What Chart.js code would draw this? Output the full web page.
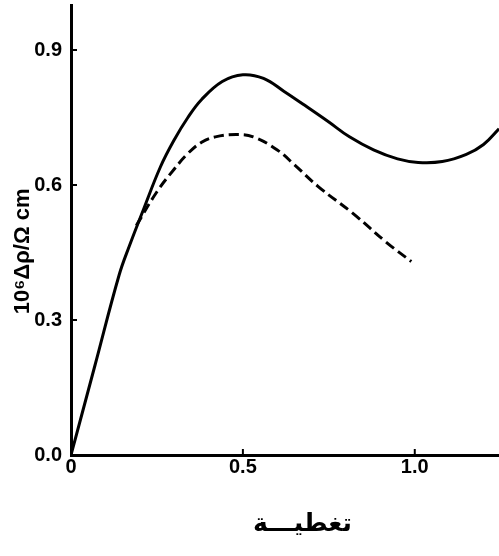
<!DOCTYPE html>
<html>
<head>
<meta charset="utf-8">
<script src="https://cdn.jsdelivr.net/npm/chart.js@4"></script>
<style>
  html, body { margin: 0; padding: 0; background: #fff; }
  #wrap { width: 499px; height: 556px; }
</style>
</head>
<body>
<div id="wrap"><canvas id="chart" width="499" height="556"></canvas></div>
<script>
// solid curve
const solidX = [0, 0.07, 0.14, 0.17, 0.21, 0.26, 0.30, 0.34, 0.38, 0.44, 0.50, 0.56, 0.62, 0.68, 0.75, 0.81, 0.88, 0.95, 1.01, 1.08, 1.15, 1.20, 1.245];
const solidY = [0, 0.20, 0.40, 0.465, 0.544, 0.64, 0.70, 0.75, 0.79, 0.83, 0.845, 0.837, 0.808, 0.777, 0.74, 0.707, 0.678, 0.658, 0.650, 0.652, 0.668, 0.690, 0.725];

// dashed curve
const dashedX = [0.19, 0.25, 0.30, 0.34, 0.38, 0.42, 0.48, 0.53, 0.60, 0.65, 0.72, 0.82, 0.92, 0.99];
const dashedY = [0.51, 0.585, 0.635, 0.67, 0.695, 0.707, 0.712, 0.707, 0.678, 0.645, 0.596, 0.537, 0.471, 0.43];

const yTicks = [0, 0.3, 0.6, 0.9];
const xTicks = [0, 0.5, 1.0];
const xTickLabels = ['0', '0.5', '1.0'];

const tickFont = { family: 'Liberation Sans', size: 20, weight: 'bold' };
const NB = '\u00a0';

function toPoints(xs, ys) {
  return xs.map((x, i) => ({ x, y: ys[i] }));
}

// short tick marks pointing into the plot
const innerTicks = {
  id: 'innerTicks',
  afterDraw(chart) {
    const { ctx, scales: { x, y } } = chart;
    ctx.save();
    ctx.strokeStyle = '#000';
    ctx.lineWidth = 2;
    for (const v of yTicks) {
      if (v === 0) continue;
      const py = y.getPixelForValue(v);
      ctx.beginPath();
      ctx.moveTo(x.left, py);
      ctx.lineTo(x.left + 6, py);
      ctx.stroke();
    }
    for (const v of xTicks) {
      if (v === 0) continue;
      const px = x.getPixelForValue(v);
      ctx.beginPath();
      ctx.moveTo(px, y.bottom);
      ctx.lineTo(px, y.bottom - 6);
      ctx.stroke();
    }
    ctx.restore();
  }
};

new Chart(document.getElementById('chart'), {
  type: 'line',
  data: {
    datasets: [
      {
        data: toPoints(solidX, solidY),
        borderColor: '#000',
        borderWidth: 3,
        pointRadius: 0,
        tension: 0.4,
        fill: false
      },
      {
        data: toPoints(dashedX, dashedY),
        borderColor: '#000',
        borderWidth: 3,
        borderDash: [10, 5],
        pointRadius: 0,
        tension: 0.4,
        fill: false
      }
    ]
  },
  plugins: [innerTicks],
  options: {
    responsive: false,
    animation: false,
    layout: { padding: { top: 5, right: 0, left: 0, bottom: 0 } },
    plugins: { legend: { display: false }, tooltip: { enabled: false } },
    scales: {
      x: {
        type: 'linear',
        min: 0,
        max: 1.245,
        afterBuildTicks: s => { s.ticks = xTicks.map(v => ({ value: v })); },
        afterFit: s => { s.height = 101; s.paddingRight = 0; },
        ticks: {
          color: '#000',
          font: tickFont,
          padding: 0,
          maxRotation: 0,
          callback: v => xTickLabels[xTicks.indexOf(v)] ?? ''
        },
        grid: { display: false, drawTicks: false },
        border: { color: '#000', width: 3 },
        title: {
          display: true,
          text: NB.repeat(4) + 'تغطيـــة',
          color: '#000',
          font: { family: 'DejaVu Sans', size: 25, weight: 'bold' },
          padding: { top: 20, bottom: 17 }
        }
      },
      y: {
        type: 'linear',
        min: 0,
        max: 1.0,
        afterBuildTicks: s => { s.ticks = yTicks.map(v => ({ value: v })); },
        afterFit: s => { s.width = 71; s.paddingTop = 0; s.paddingBottom = 0; },
        ticks: {
          color: '#000',
          font: tickFont,
          padding: 9,
          callback: v => v.toFixed(1)
        },
        grid: { display: false, drawTicks: false },
        border: { color: '#000', width: 3 },
        title: {
          display: true,
          text: '10⁶Δρ/Ω cm' + NB.repeat(7),
          color: '#000',
          font: { family: 'Liberation Sans', size: 22, weight: 'bold' },
          padding: { top: 10, bottom: 0 }
        }
      }
    }
  }
});
</script>
</body>
</html>
